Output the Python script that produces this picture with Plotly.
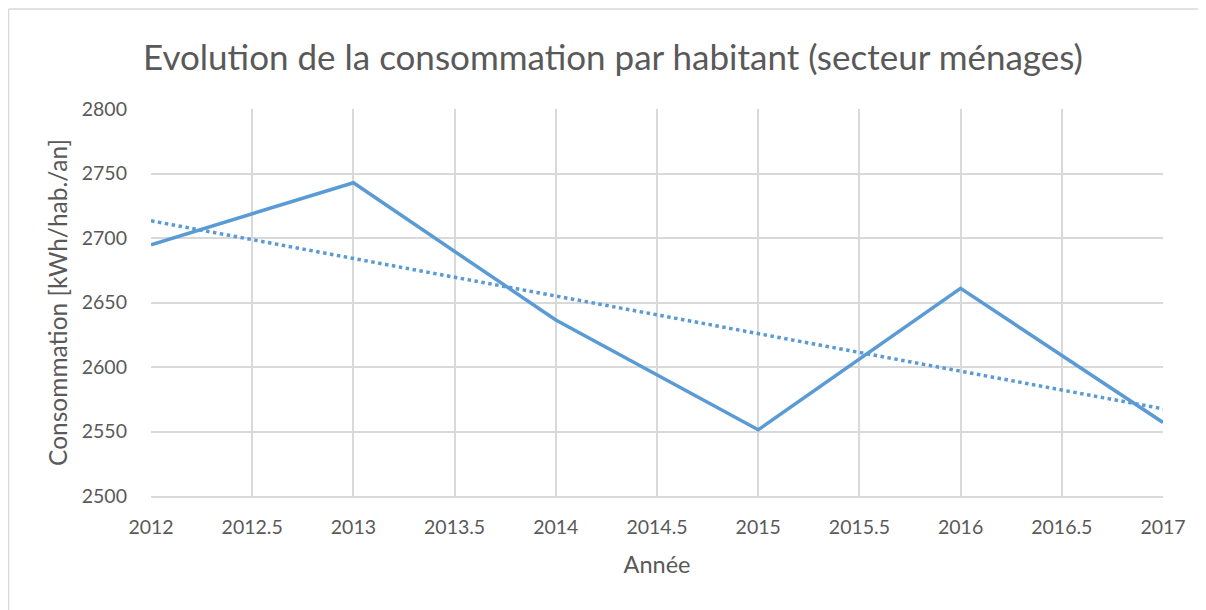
import plotly.graph_objects as go

years = [2012, 2013, 2014, 2015, 2016, 2017]
consommation = [2694.8, 2742.8, 2636.4, 2551.3, 2661.0, 2557.0]
trend_x = [2012, 2017]
trend_y = [2713.3, 2567.6]

title = "Evolution de la consommation par habitant (secteur ménages)"
x_title = "Année"
y_title = "Consommation [kWh/hab./an]"

FONT = "Lato, Open Sans, sans-serif"
TXT = "#595959"
GRID = "#d9d9d9"
BLUE = "#5b9bd5"

fig = go.Figure()
fig.add_trace(go.Scatter(x=years, y=consommation, mode="lines",
                         line=dict(color=BLUE, width=3.5), showlegend=False))
fig.add_trace(go.Scatter(x=trend_x, y=trend_y, mode="lines",
                         line=dict(color=BLUE, width=3.5, dash="dot"), showlegend=False))

fig.update_layout(
    width=1198, height=602,
    paper_bgcolor="white", plot_bgcolor="white",
    margin=dict(l=143, r=43, t=101, b=114, autoexpand=False),
    font=dict(family=FONT, color=TXT, size=19),
    title=dict(text=title, x=0.505, xanchor="center", y=0.917, yanchor="middle",
               font=dict(size=35, color=TXT, family=FONT)),
    xaxis=dict(range=[2012, 2017], dtick=0.5, tick0=2012, tickformat=".1~f",
               showgrid=True, gridcolor=GRID,
               gridwidth=1.5, showline=True, linecolor=GRID, linewidth=1.5, zeroline=False,
               ticks="", ticklabelstandoff=13, tickfont=dict(size=19.5, color=TXT),
               title=dict(text=x_title, font=dict(size=23.5, color=TXT), standoff=19)),
    yaxis=dict(range=[2500, 2800], dtick=50, showgrid=True, gridcolor=GRID, gridwidth=1.5,
               showline=False, zeroline=False, ticks="", ticklabelstandoff=23,
               tickfont=dict(size=19.5, color=TXT),
               title=dict(text=y_title, font=dict(size=24.5, color=TXT), standoff=7)),
    shapes=[dict(type="line", xref="paper", yref="paper", x0=-0.1408, x1=-0.1408, y0=-1, y1=1.2584,
                 line=dict(color=GRID, width=1.5)),
            dict(type="line", xref="paper", yref="paper", x0=-0.1408, x1=1.2, y0=1.2584, y1=1.2584,
                 line=dict(color=GRID, width=1.5))],
)

fig.write_html("out.html")
